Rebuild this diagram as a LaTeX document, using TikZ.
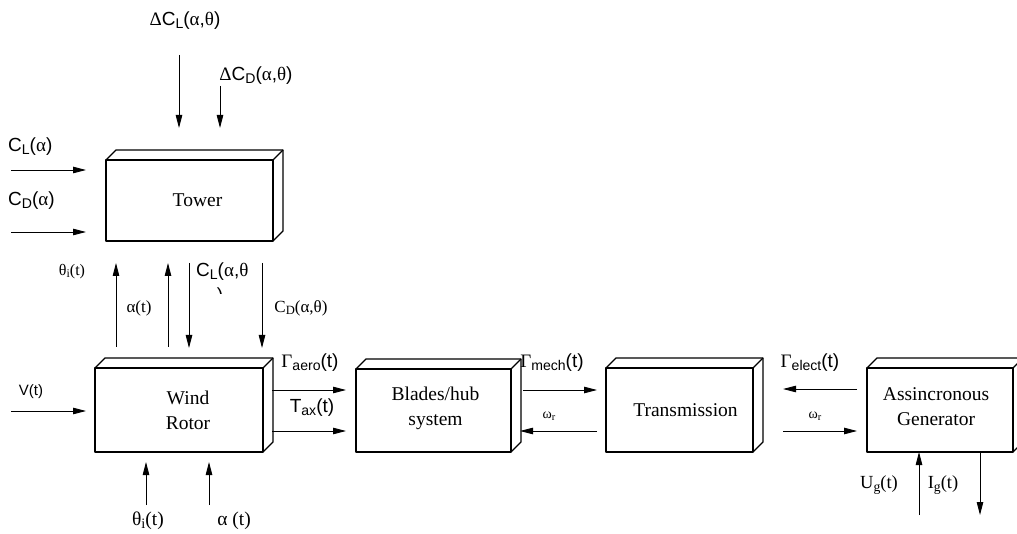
\documentclass[tikz,border=0pt]{standalone}
\usepackage{fontspec}
\setmainfont{Liberation Serif}
\newfontfamily\arfont{Liberation Sans}
\usetikzlibrary{arrows.meta,calc}
\newcommand\sbs[1]{\raisebox{-0.28ex}{\scalebox{0.74}{#1}}}
\newcommand\gk[1]{{\rmfamily #1}}
\newcommand\depthbox[1]{%
  \draw[boxline] (#1.north west) -- ++(10,-10) -| ($(#1.south east)+(10,-10)$) -- (#1.south east);
  \draw[boxline] (#1.north east) -- ++(10,-10);}
\tikzset{
  boxline/.style={line width=1.3pt, line join=round},
  box/.style={draw, boxline, rectangle, outer sep=0pt, inner sep=0pt},
  boxtext/.style={font=\fontsize{19.5}{25}\selectfont, align=center},
  arr/.style={-{Triangle[length=13pt,width=6.5pt]}, line width=0.9pt},
  sanslab/.style={font=\arfont\fontsize{19}{22}\selectfont, inner sep=0pt},
  seriflab/.style={font=\fontsize{17}{20}\selectfont, inner sep=0pt},
  bigserif/.style={font=\fontsize{19.5}{22}\selectfont, inner sep=0pt},
  smalllab/.style={font=\fontsize{14}{16}\selectfont, inner sep=0pt},
}
\begin{document}
\begin{tikzpicture}[x=1pt,y=-1pt]
\useasboundingbox (0,0) rectangle (1017,534);

% boxes
\node[box, minimum width=167pt, minimum height=81pt,
  label={[boxtext, xshift=8pt]center:Tower}] (tower) at (189.5,200.5) {};
\node[box, minimum width=168pt, minimum height=84pt,
  label={[boxtext, xshift=9pt]center:Wind\\Rotor}] (rotor) at (179,410) {};
\node[box, minimum width=155pt, minimum height=83pt,
  label={[boxtext, xshift=2pt, yshift=2pt]center:Blades/hub\\system}] (blades) at (433.5,410.5) {};
\node[box, minimum width=147pt, minimum height=84pt,
  label={[boxtext, xshift=6pt]center:Transmission}] (trans) at (679.5,410) {};
\node[box, minimum width=146pt, minimum height=84pt,
  label={[boxtext, xshift=-4pt, yshift=3pt]center:Assincronous\\Generator}] (gen) at (940,410) {};
\depthbox{tower}
\depthbox{rotor}
\depthbox{blades}
\depthbox{trans}
\depthbox{gen}

% coordinates of free arrow ends
\coordinate (dcl0) at (179,55);  \coordinate (dcl1) at (179,128);
\coordinate (dcd0) at (220,86);  \coordinate (dcd1) at (220,128);
\coordinate (cla0) at (11,170);  \coordinate (cla1) at (86,170);
\coordinate (cda0) at (11,232);  \coordinate (cda1) at (86,232);
\coordinate (th0) at (116,347);  \coordinate (th1) at (116,263);
\coordinate (al0) at (168,347);  \coordinate (al1) at (168,263);
\coordinate (clt0) at (189,263); \coordinate (clt1) at (189,348);
\coordinate (cdt0) at (262,263); \coordinate (cdt1) at (262,348);
\coordinate (v0) at (11,411);    \coordinate (v1) at (86,411);
\coordinate (ga0) at (272,390);  \coordinate (ga1) at (346,390);
\coordinate (ta0) at (272,431);  \coordinate (ta1) at (346,431);
\coordinate (thb0) at (146,505); \coordinate (thb1) at (146,462);
\coordinate (alb0) at (209,505); \coordinate (alb1) at (209,462);
\coordinate (gm0) at (523,390);  \coordinate (gm1) at (597,390);
\coordinate (w10) at (597,431);  \coordinate (w11) at (520,431);
\coordinate (ge0) at (857,389);  \coordinate (ge1) at (783,389);
\coordinate (w20) at (783,431);  \coordinate (w21) at (857,431);
\coordinate (ug0) at (919,515);
\coordinate (ig1) at (980,515);

% arrows
\draw[arr] (dcl0) -- (dcl1);
\draw[arr] (dcd0) -- (dcd1);
\draw[arr] (cla0) -- (cla1);
\draw[arr] (cda0) -- (cda1);
\draw[arr] (th0) -- (th1);
\draw[arr] (al0) -- (al1);
\draw[arr] (clt0) -- (clt1);
\draw[arr] (cdt0) -- (cdt1);
\draw[arr] (v0) -- (v1);
\draw[arr] (ga0) -- (ga1);
\draw[arr] (ta0) -- (ta1);
\draw[arr] (thb0) -- (thb1);
\draw[arr] (alb0) -- (alb1);
\draw[arr] (gm0) -- (gm1);
\draw[arr] (w10) -- (w11);
\draw[arr] (ge0) -- (ge1);
\draw[arr] (w20) -- (w21);
\draw[arr] (ug0) -- (ug0 |- gen.south);
\draw[arr] (gen.south -| ig1) -- (ig1);

% labels
\node[sanslab] (ldcl) at (185,21) {\gk{Δ}C\sbs{L}(\gk{α},\gk{θ})};
\node[sanslab] (ldcd) at (256,76) {\gk{Δ}C\sbs{D}(\gk{α},\gk{θ})};
\node[sanslab, anchor=west] (lcla) at (8,147) {C\sbs{L}(\gk{α})};
\node[sanslab, anchor=west] (lcda) at (8,201) {C\sbs{D}(\gk{α})};
\node[seriflab, font=\fontsize{16}{18}\selectfont] (lth) at (72,272) {θ\sbs{i}(t)};
\node[seriflab] (lal) at (139,308) {α(t)};
\node[sanslab, anchor=west] (lclt) at (196,272) {C\sbs{L}(\gk{α},\gk{θ}};
\begin{scope}
  \clip (214,284) rectangle (230,294);
  \node[sanslab] (lpar) at (220,297) {)};
\end{scope}
\node[seriflab] (lcdt) at (301,308) {C\sbs{D}(α,θ)};
\node[sanslab, font=\arfont\fontsize{15}{18}\selectfont] (lv) at (31,392) {V(t)};
\node[sanslab] (lga) at (310,363) {\gk{Γ}\sbs{aero}(t)};
\node[sanslab] (lta) at (312,408) {T\sbs{ax}(t)};
\node[sanslab] (lgm) at (552,363) {\gk{Γ}\sbs{mech}(t)};
\node[smalllab] (lw1) at (549,416) {ω\sbs{r}};
\node[sanslab] (lge) at (810,363) {\gk{Γ}\sbs{elect}(t)};
\node[smalllab] (lw2) at (815,416) {ω\sbs{r}};
\node[bigserif, font=\fontsize{18.5}{22}\selectfont] (lug) at (879,485) {U\sbs{g}(t)};
\node[bigserif, font=\fontsize{18.5}{22}\selectfont] (lig) at (943,485) {I\sbs{g}(t)};
\node[bigserif] (lthb) at (148,521) {θ\sbs{i}(t)};
\node[bigserif] (lalb) at (234,521) {α (t)};
\end{tikzpicture}
\end{document}
